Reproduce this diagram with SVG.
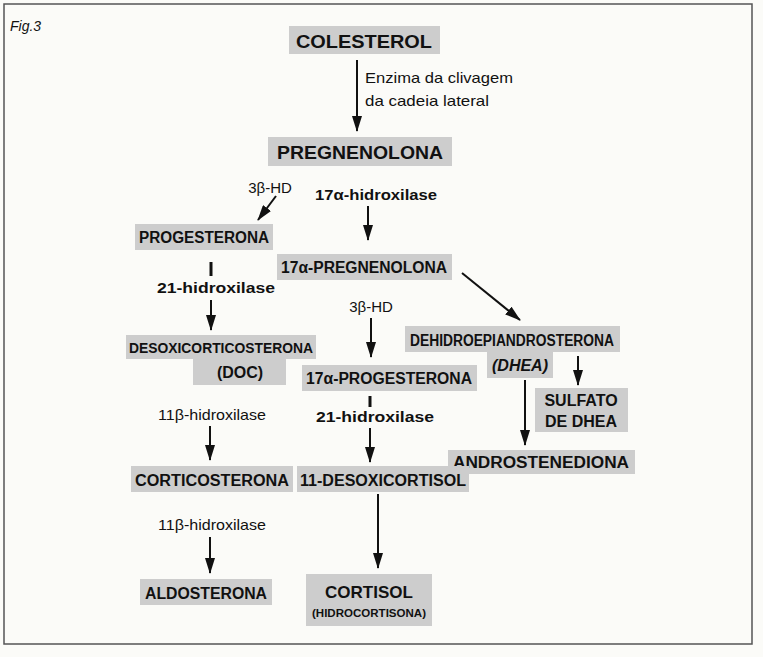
<svg xmlns="http://www.w3.org/2000/svg" width="763" height="657" viewBox="0 0 763 657">
<style>
.b{fill:#cdcdcd}
text{font-family:"Liberation Sans",Arial,sans-serif;fill:#111;text-anchor:middle}
.n{font-weight:bold;font-size:16px}
.e{font-size:15px}
.eb{font-size:15px;font-weight:bold}
.c{stroke:#111;stroke-width:2;fill:none}
</style>
<defs><marker id="a" viewBox="0 0 16 10" refX="15" refY="5" markerWidth="8" markerHeight="5" orient="auto" markerUnits="strokeWidth"><path d="M0,0 L16,5 L0,10 Z" fill="#111"/></marker></defs>
<rect x="0" y="0" width="763" height="657" fill="#fbfbf8"/>
<rect x="4" y="4" width="748" height="640" fill="none" stroke="#555" stroke-width="1.5"/>
<text x="10" y="31" style="font-size:14px;font-style:italic;text-anchor:start">Fig.3</text>
<g id="colesterol"><rect class="b" x="289" y="26" width="151" height="28"/><text class="n" x="364" y="48" style="font-size:19px" textLength="136" lengthAdjust="spacingAndGlyphs">COLESTEROL</text></g>
<g id="pregnenolona"><rect class="b" x="268" y="137" width="184" height="29"/><text class="n" x="360" y="159" style="font-size:19px" textLength="166" lengthAdjust="spacingAndGlyphs">PREGNENOLONA</text></g>
<g id="progesterona"><rect class="b" x="135" y="224" width="138" height="26"/><text class="n" x="204" y="243" textLength="130" lengthAdjust="spacingAndGlyphs">PROGESTERONA</text></g>
<g id="pregnenolona17"><rect class="b" x="277" y="254" width="175" height="26"/><text class="n" x="364" y="273" textLength="166" lengthAdjust="spacingAndGlyphs">17α-PREGNENOLONA</text></g>
<g id="doc"><rect class="b" x="126" y="335" width="190" height="24"/><rect class="b" x="193" y="359" width="93" height="26"/><text class="n" x="221" y="353" style="font-size:15px" textLength="184" lengthAdjust="spacingAndGlyphs">DESOXICORTICOSTERONA</text><text class="n" x="240" y="378">(DOC)</text></g>
<g id="dhea"><rect class="b" x="405" y="326" width="215" height="26"/><rect class="b" x="487" y="352" width="66" height="26"/><text class="n" x="512" y="346" textLength="204" lengthAdjust="spacingAndGlyphs">DEHIDROEPIANDROSTERONA</text><text class="n" x="520" y="371" style="font-style:italic">(DHEA)</text></g>
<g id="progesterona17"><rect class="b" x="302" y="365" width="175" height="26"/><text class="n" x="389" y="384" textLength="166" lengthAdjust="spacingAndGlyphs">17α-PROGESTERONA</text></g>
<g id="sulfato"><rect class="b" x="535" y="388" width="93" height="44"/><text class="n" x="581" y="406">SULFATO</text><text class="n" x="581" y="427">DE DHEA</text></g>
<g id="androstenediona"><rect class="b" x="448" y="450" width="187" height="24"/><text class="n" x="541" y="468" textLength="176" lengthAdjust="spacingAndGlyphs">ANDROSTENEDIONA</text></g>
<g id="corticosterona"><rect class="b" x="131" y="466" width="162" height="26"/><text class="n" x="212" y="486" textLength="154" lengthAdjust="spacingAndGlyphs">CORTICOSTERONA</text></g>
<g id="desoxicortisol"><rect class="b" x="297" y="466" width="172" height="26"/><text class="n" x="383" y="486" textLength="166" lengthAdjust="spacingAndGlyphs">11-DESOXICORTISOL</text></g>
<g id="aldosterona"><rect class="b" x="140" y="579" width="132" height="26"/><text class="n" x="206" y="599" textLength="122" lengthAdjust="spacingAndGlyphs">ALDOSTERONA</text></g>
<g id="cortisol"><rect class="b" x="306" y="574" width="126" height="52"/><text class="n" x="369" y="598" style="font-size:17px">CORTISOL</text><text class="n" x="369" y="617" style="font-size:10.5px" textLength="114" lengthAdjust="spacingAndGlyphs">(HIDROCORTISONA)</text></g>
<g id="connectors">
<line class="c" x1="357" y1="60" x2="357" y2="131" marker-end="url(#a)"/>
<line class="c" x1="276" y1="196" x2="258" y2="220" marker-end="url(#a)"/>
<line class="c" x1="368" y1="206" x2="368" y2="240" marker-end="url(#a)"/>
<line class="c" x1="211" y1="262" x2="211" y2="276" style="stroke-width:3"/>
<line class="c" x1="211" y1="300" x2="211" y2="330" marker-end="url(#a)"/>
<line class="c" x1="462" y1="273" x2="520" y2="320" marker-end="url(#a)"/>
<line class="c" x1="371" y1="318" x2="371" y2="357" marker-end="url(#a)"/>
<line class="c" x1="370" y1="396" x2="370" y2="407" style="stroke-width:3"/>
<line class="c" x1="370" y1="428" x2="370" y2="462" marker-end="url(#a)"/>
<line class="c" x1="210" y1="426" x2="210" y2="460" marker-end="url(#a)"/>
<line class="c" x1="210" y1="537" x2="210" y2="573" marker-end="url(#a)"/>
<line class="c" x1="378" y1="494" x2="378" y2="568" marker-end="url(#a)"/>
<line class="c" x1="525" y1="380" x2="525" y2="445" marker-end="url(#a)"/>
<line class="c" x1="578" y1="356" x2="578" y2="385" marker-end="url(#a)"/>
</g>
<text class="e" x="365" y="83" style="text-anchor:start" textLength="148" lengthAdjust="spacingAndGlyphs">Enzima da clivagem</text>
<text class="e" x="365" y="106" style="text-anchor:start" textLength="124" lengthAdjust="spacingAndGlyphs">da cadeia lateral</text>
<text class="e" x="270" y="193">3β-HD</text>
<text class="eb" x="376" y="200" textLength="122" lengthAdjust="spacingAndGlyphs">17α-hidroxilase</text>
<text class="eb" x="216" y="293" textLength="118" lengthAdjust="spacingAndGlyphs">21-hidroxilase</text>
<text class="e" x="371" y="312">3β-HD</text>
<text class="eb" x="375" y="422" textLength="118" lengthAdjust="spacingAndGlyphs">21-hidroxilase</text>
<text class="e" x="212" y="420" textLength="108" lengthAdjust="spacingAndGlyphs">11β-hidroxilase</text>
<text class="e" x="212" y="530" textLength="108" lengthAdjust="spacingAndGlyphs">11β-hidroxilase</text>
</svg>
